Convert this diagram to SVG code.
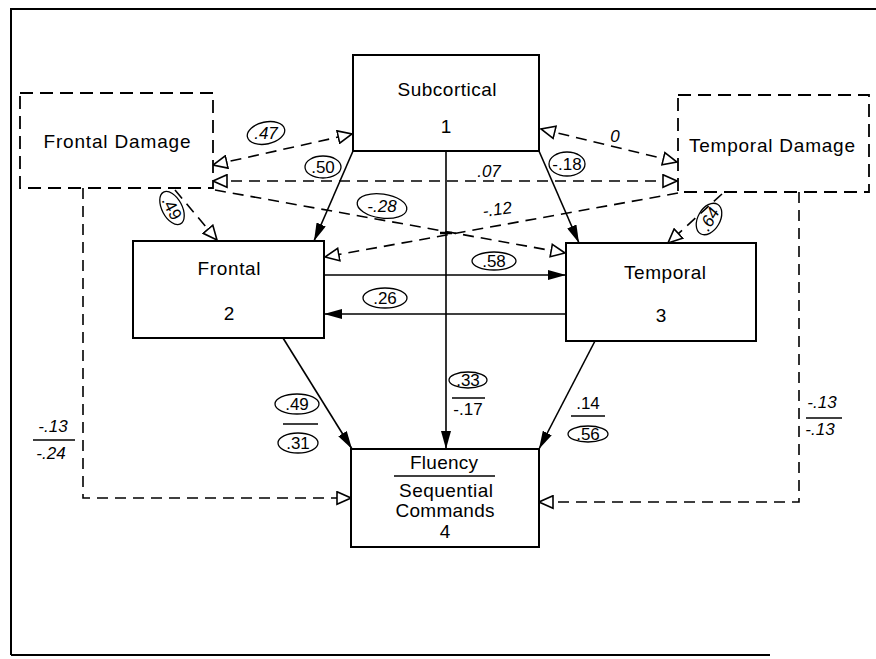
<svg xmlns="http://www.w3.org/2000/svg" width="876" height="659" viewBox="0 0 876 659">
<defs>
<style>
.frame{stroke:#000;stroke-width:2;fill:none}
.box{fill:#fff;stroke:#000;stroke-width:2}
.dbox{fill:#fff;stroke:#000;stroke-width:1.8;stroke-dasharray:13 7}
.nt{font-family:"Liberation Sans",Arial,sans-serif;font-size:19px;fill:#000;text-anchor:middle}
.sol{stroke:#000;stroke-width:1.6;fill:none;marker-end:url(#fa)}
.dsh{stroke:#000;stroke-width:1.6;fill:none;stroke-dasharray:11 7;marker-end:url(#oa)}
.dbl{marker-start:url(#oa)}
.lb{font-family:"Liberation Sans",Arial,sans-serif;font-size:17px;fill:#000;text-anchor:middle}
.it{font-style:italic}
.ov{fill:none;stroke:#000;stroke-width:1.3}
.fr{stroke:#000;stroke-width:1.5}
</style>
<marker id="fa" viewBox="0 0 18 10" refX="18" refY="5" markerWidth="18" markerHeight="10" markerUnits="userSpaceOnUse" orient="auto-start-reverse">
<path d="M0,0 L18,5 L0,10 z" fill="#000" stroke="none"/>
</marker>
<marker id="oa" viewBox="0 0 16 15" refX="15" refY="7.5" markerWidth="16" markerHeight="15" markerUnits="userSpaceOnUse" orient="auto-start-reverse">
<path d="M1,1.2 L15,7.5 L1,13.8 z" fill="#fff" stroke="#000" stroke-width="1.6" stroke-dasharray="none"/>
</marker>
</defs>
<rect width="876" height="659" fill="#fff"/>
<g id="frame">
<path class="frame" d="M11,655 V9 H876"/>
<path class="frame" d="M11,655 H770"/>
</g>
<g id="connectors">
<path class="sol" d="M353,151 L314,241"/>
<path class="sol" d="M539,151 L579,243"/>
<path class="sol" d="M446,151 V449"/>
<path class="sol" d="M324,275 H566"/>
<path class="sol" d="M566,314 H324"/>
<path class="sol" d="M283,338 L352,449"/>
<path class="sol" d="M595,341 L539,449"/>
<path class="dsh dbl" d="M213,165 L352,134"/>
<path class="dsh dbl" d="M541,129 L677,162"/>
<path class="dsh dbl" d="M213,181 L677,181"/>
<path class="dsh" d="M215,190 L565,253"/>
<path class="dsh" d="M678,193 L325,257"/>
<path class="dsh" d="M175,190 L217,240"/>
<path class="dsh" d="M722,194 L668,243"/>
<path class="dsh" d="M83,188 V498 H351"/>
<path class="dsh" d="M799,192 V502 H539"/>
<path d="M440,233 H452" stroke="#000" stroke-width="2.5"/>
</g>
<g id="frontal-damage">
<rect class="dbox" x="20" y="93" width="193" height="95"/>
<text class="nt" x="117" y="148" textLength="147" lengthAdjust="spacing">Frontal Damage</text>
</g>
<g id="subcortical">
<rect class="box" x="353" y="55" width="186" height="96"/>
<text class="nt" x="447" y="96" textLength="99" lengthAdjust="spacing">Subcortical</text>
<text class="nt" x="446" y="133">1</text>
</g>
<g id="temporal-damage">
<rect class="dbox" x="678" y="95" width="191" height="97"/>
<text class="nt" x="772" y="152" textLength="166" lengthAdjust="spacing">Temporal Damage</text>
</g>
<g id="frontal">
<rect class="box" x="133" y="241" width="191" height="97"/>
<text class="nt" x="229" y="275" textLength="63" lengthAdjust="spacing">Frontal</text>
<text class="nt" x="229" y="320">2</text>
</g>
<g id="temporal">
<rect class="box" x="566" y="243" width="190" height="98"/>
<text class="nt" x="665" y="279" textLength="82" lengthAdjust="spacing">Temporal</text>
<text class="nt" x="661" y="322">3</text>
</g>
<g id="fluency">
<rect class="box" x="351" y="449" width="188" height="98"/>
<text class="nt" x="444" y="469" textLength="68" lengthAdjust="spacing">Fluency</text>
<path d="M394,476 H495" stroke="#000" stroke-width="1.5"/>
<text class="nt" x="446" y="497" textLength="94" lengthAdjust="spacing">Sequential</text>
<text class="nt" x="445" y="517" textLength="99" lengthAdjust="spacing">Commands</text>
<text class="nt" x="445" y="538">4</text>
</g>
<g id="labels">
<ellipse class="ov" cx="266" cy="133" rx="19" ry="11" transform="rotate(-12 266 133)"/>
<text class="lb it" x="266" y="139">.47</text>
<ellipse class="ov" cx="323" cy="167" rx="18" ry="11"/>
<text class="lb" x="323" y="173">.50</text>
<g transform="rotate(62 172 208)">
<ellipse class="ov" cx="172" cy="208" rx="18" ry="10"/>
<text class="lb" x="172" y="214">.49</text>
</g>
<ellipse class="ov" cx="382" cy="206" rx="25" ry="12" transform="rotate(8 382 206)"/>
<text class="lb it" x="382" y="212">-.28</text>
<text class="lb it" x="489" y="177">.07</text>
<text class="lb it" x="498" y="215" transform="rotate(-8 498 215)">-.12</text>
<ellipse class="ov" cx="567" cy="164" rx="18" ry="12"/>
<text class="lb" x="567" y="170">-.18</text>
<text class="lb it" x="615" y="142">0</text>
<g transform="rotate(-60 709 219)">
<ellipse class="ov" cx="709" cy="219" rx="17" ry="11"/>
<text class="lb it" x="709" y="225">.64</text>
</g>
<ellipse class="ov" cx="494" cy="261" rx="22" ry="9"/>
<text class="lb" x="494" y="267">.58</text>
<ellipse class="ov" cx="385" cy="298" rx="22" ry="10"/>
<text class="lb" x="385" y="304">.26</text>
<ellipse class="ov" cx="297" cy="404" rx="22" ry="10"/>
<text class="lb" x="297" y="410">.49</text>
<path class="fr" d="M283,424 H318"/>
<ellipse class="ov" cx="298" cy="443" rx="20" ry="10"/>
<text class="lb" x="298" y="449">.31</text>
<ellipse class="ov" cx="468" cy="380" rx="19" ry="8"/>
<text class="lb" x="468" y="386">.33</text>
<path class="fr" d="M452,398 H485"/>
<text class="lb" x="468" y="415">-.17</text>
<text class="lb" x="588" y="409">.14</text>
<path class="fr" d="M571,416 H605"/>
<ellipse class="ov" cx="588" cy="434" rx="20" ry="8"/>
<text class="lb" x="588" y="440">.56</text>
<text class="lb it" x="53" y="432">-.13</text>
<path class="fr" d="M33,440 H75"/>
<text class="lb it" x="51" y="459">-.24</text>
<text class="lb it" x="822" y="408">-.13</text>
<path class="fr" d="M806,418 H842"/>
<text class="lb it" x="820" y="435">-.13</text>
</g>
</svg>
